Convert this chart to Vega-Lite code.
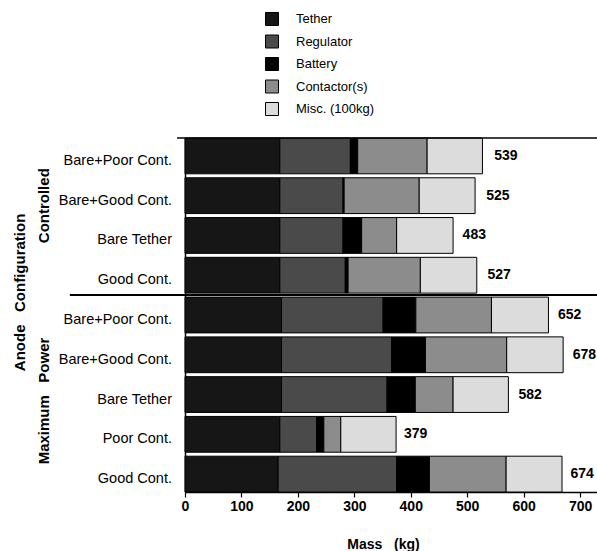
{
  "$schema": "https://vega.github.io/schema/vega-lite/v6.json",
  "width": 412,
  "height": 354,
  "autosize": {"type": "none"},
  "padding": {"left": 185, "top": 138, "right": 0, "bottom": 59},
  "config": {
    "view": {"stroke": null},
    "font": "Liberation Sans",
    "legend": {
      "orient": "none",
      "legendX": 80,
      "legendY": -126,
      "padding": 0,
      "symbolType": "square",
      "symbolSize": 169,
      "symbolStrokeColor": "black",
      "symbolStrokeWidth": 1,
      "labelFontSize": 13,
      "labelFont": "Liberation Sans",
      "labelColor": "black",
      "labelOffset": 17,
      "rowPadding": 4.5
    }
  },
  "datasets": {
    "segments": [
      {"row": "C1", "component": "Tether", "order": 1, "mass": 168},
      {"row": "C1", "component": "Regulator", "order": 2, "mass": 125},
      {"row": "C1", "component": "Battery", "order": 3, "mass": 13},
      {"row": "C1", "component": "Contactor(s)", "order": 4, "mass": 123},
      {"row": "C1", "component": "Misc. (100kg)", "order": 5, "mass": 98},
      {"row": "C2", "component": "Tether", "order": 1, "mass": 168},
      {"row": "C2", "component": "Regulator", "order": 2, "mass": 112},
      {"row": "C2", "component": "Battery", "order": 3, "mass": 2},
      {"row": "C2", "component": "Contactor(s)", "order": 4, "mass": 133},
      {"row": "C2", "component": "Misc. (100kg)", "order": 5, "mass": 99},
      {"row": "C3", "component": "Tether", "order": 1, "mass": 168},
      {"row": "C3", "component": "Regulator", "order": 2, "mass": 112},
      {"row": "C3", "component": "Battery", "order": 3, "mass": 33},
      {"row": "C3", "component": "Contactor(s)", "order": 4, "mass": 62},
      {"row": "C3", "component": "Misc. (100kg)", "order": 5, "mass": 100},
      {"row": "C4", "component": "Tether", "order": 1, "mass": 168},
      {"row": "C4", "component": "Regulator", "order": 2, "mass": 116},
      {"row": "C4", "component": "Battery", "order": 3, "mass": 5},
      {"row": "C4", "component": "Contactor(s)", "order": 4, "mass": 128},
      {"row": "C4", "component": "Misc. (100kg)", "order": 5, "mass": 100},
      {"row": "M1", "component": "Tether", "order": 1, "mass": 171},
      {"row": "M1", "component": "Regulator", "order": 2, "mass": 180},
      {"row": "M1", "component": "Battery", "order": 3, "mass": 58},
      {"row": "M1", "component": "Contactor(s)", "order": 4, "mass": 134},
      {"row": "M1", "component": "Misc. (100kg)", "order": 5, "mass": 101},
      {"row": "M2", "component": "Tether", "order": 1, "mass": 171},
      {"row": "M2", "component": "Regulator", "order": 2, "mass": 195},
      {"row": "M2", "component": "Battery", "order": 3, "mass": 60},
      {"row": "M2", "component": "Contactor(s)", "order": 4, "mass": 144},
      {"row": "M2", "component": "Misc. (100kg)", "order": 5, "mass": 100},
      {"row": "M3", "component": "Tether", "order": 1, "mass": 171},
      {"row": "M3", "component": "Regulator", "order": 2, "mass": 187},
      {"row": "M3", "component": "Battery", "order": 3, "mass": 50},
      {"row": "M3", "component": "Contactor(s)", "order": 4, "mass": 67},
      {"row": "M3", "component": "Misc. (100kg)", "order": 5, "mass": 98},
      {"row": "M4", "component": "Tether", "order": 1, "mass": 168},
      {"row": "M4", "component": "Regulator", "order": 2, "mass": 65},
      {"row": "M4", "component": "Battery", "order": 3, "mass": 13},
      {"row": "M4", "component": "Contactor(s)", "order": 4, "mass": 30},
      {"row": "M4", "component": "Misc. (100kg)", "order": 5, "mass": 98},
      {"row": "M5", "component": "Tether", "order": 1, "mass": 165},
      {"row": "M5", "component": "Regulator", "order": 2, "mass": 210},
      {"row": "M5", "component": "Battery", "order": 3, "mass": 58},
      {"row": "M5", "component": "Contactor(s)", "order": 4, "mass": 136},
      {"row": "M5", "component": "Misc. (100kg)", "order": 5, "mass": 99}
    ],
    "rows": [
      {"row": "C1", "label": "Bare+Poor Cont.", "total": 539},
      {"row": "C2", "label": "Bare+Good Cont.", "total": 525},
      {"row": "C3", "label": "Bare Tether", "total": 483},
      {"row": "C4", "label": "Good Cont.", "total": 527},
      {"row": "M1", "label": "Bare+Poor Cont.", "total": 652},
      {"row": "M2", "label": "Bare+Good Cont.", "total": 678},
      {"row": "M3", "label": "Bare Tether", "total": 582},
      {"row": "M4", "label": "Poor Cont.", "total": 379},
      {"row": "M5", "label": "Good Cont.", "total": 674}
    ]
  },
  "layer": [
    {
      "data": {"name": "segments"},
      "mark": {"type": "bar", "stroke": "black", "strokeWidth": 1},
      "encoding": {
        "y": {
          "field": "row",
          "type": "nominal",
          "scale": {
            "domain": ["C1", "C2", "C3", "C4", "M1", "M2", "M3", "M4", "M5"],
            "paddingInner": 0.1,
            "paddingOuter": 0
          },
          "axis": {"labels": false, "ticks": false, "title": null, "domainColor": "black", "domainWidth": 1.5}
        },
        "x": {
          "field": "mass",
          "type": "quantitative",
          "stack": "zero",
          "scale": {"domain": [0, 730], "nice": false},
          "axis": {
            "title": "Mass\u00a0\u00a0 (kg)",
            "values": [0, 50, 100, 150, 200, 250, 300, 350, 400, 450, 500, 550, 600, 650, 700],
            "labelExpr": "datum.value % 100 === 0 ? datum.label : ''",
            "grid": false,
            "tickSize": 5,
            "tickColor": "black",
            "tickWidth": 1.2,
            "domainColor": "black",
            "domainWidth": 1.5,
            "labelFontSize": 14,
            "labelFontWeight": "bold",
            "labelColor": "black",
            "labelPadding": 2,
            "labelFlush": false,
            "titleFontSize": 14,
            "titleFontWeight": "bold",
            "titleColor": "black",
            "titlePadding": 24,
            "titleX": 198
          }
        },
        "color": {
          "field": "component",
          "type": "nominal",
          "scale": {
            "domain": ["Tether", "Regulator", "Battery", "Contactor(s)", "Misc. (100kg)"],
            "range": ["#161616", "#4a4a4a", "#000000", "#8c8c8c", "#dcdcdc"]
          },
          "legend": {"title": null}
        },
        "order": {"field": "order", "type": "quantitative"}
      }
    },
    {
      "data": {"name": "rows"},
      "mark": {"type": "text", "align": "left", "baseline": "middle", "dx": 5, "fontSize": 14, "fontWeight": "bold", "color": "black"},
      "encoding": {
        "y": {"field": "row", "type": "nominal"},
        "x": {"field": "total", "type": "quantitative"},
        "text": {"field": "total", "type": "quantitative"}
      }
    },
    {
      "data": {"name": "rows"},
      "mark": {"type": "text", "align": "right", "baseline": "middle", "dx": -13, "dy": 5, "fontSize": 14.5, "color": "black"},
      "encoding": {
        "y": {"field": "row", "type": "nominal"},
        "x": {"datum": 0},
        "text": {"field": "label", "type": "nominal"}
      }
    },
    {
      "data": {"values": [{}]},
      "mark": {"type": "rule", "color": "black", "strokeWidth": 1.5},
      "encoding": {
        "y": {"datum": "C1", "type": "nominal", "bandPosition": 0},
        "x": {"datum": -14},
        "x2": {"datum": 730}
      }
    },
    {
      "data": {"values": [{}]},
      "mark": {"type": "rule", "color": "black", "strokeWidth": 2, "yOffset": -2},
      "encoding": {
        "y": {"datum": "M1", "type": "nominal", "bandPosition": 0},
        "x": {"datum": -204},
        "x2": {"datum": 730}
      }
    },
    {
      "data": {"values": [{"label": "Controlled"}]},
      "mark": {"type": "text", "angle": 270, "align": "center", "baseline": "middle", "fontSize": 15, "fontWeight": "bold", "color": "black"},
      "encoding": {
        "y": {"datum": "C2", "type": "nominal", "bandPosition": 0.78},
        "x": {"datum": -250},
        "text": {"field": "label"}
      }
    },
    {
      "data": {"values": [{"label": "Maximum\u00a0\u00a0 Power"}]},
      "mark": {"type": "text", "angle": 270, "align": "center", "baseline": "middle", "fontSize": 15, "fontWeight": "bold", "color": "black"},
      "encoding": {
        "y": {"datum": "M3", "type": "nominal", "bandPosition": 0.68},
        "x": {"datum": -250},
        "text": {"field": "label"}
      }
    },
    {
      "data": {"values": [{"label": "Anode\u00a0\u00a0 Configuration"}]},
      "mark": {"type": "text", "angle": 270, "align": "center", "baseline": "middle", "fontSize": 15, "fontWeight": "bold", "color": "black"},
      "encoding": {
        "y": {"datum": "C4", "type": "nominal", "bandPosition": 0.98},
        "x": {"datum": -293},
        "text": {"field": "label"}
      }
    }
  ]
}
